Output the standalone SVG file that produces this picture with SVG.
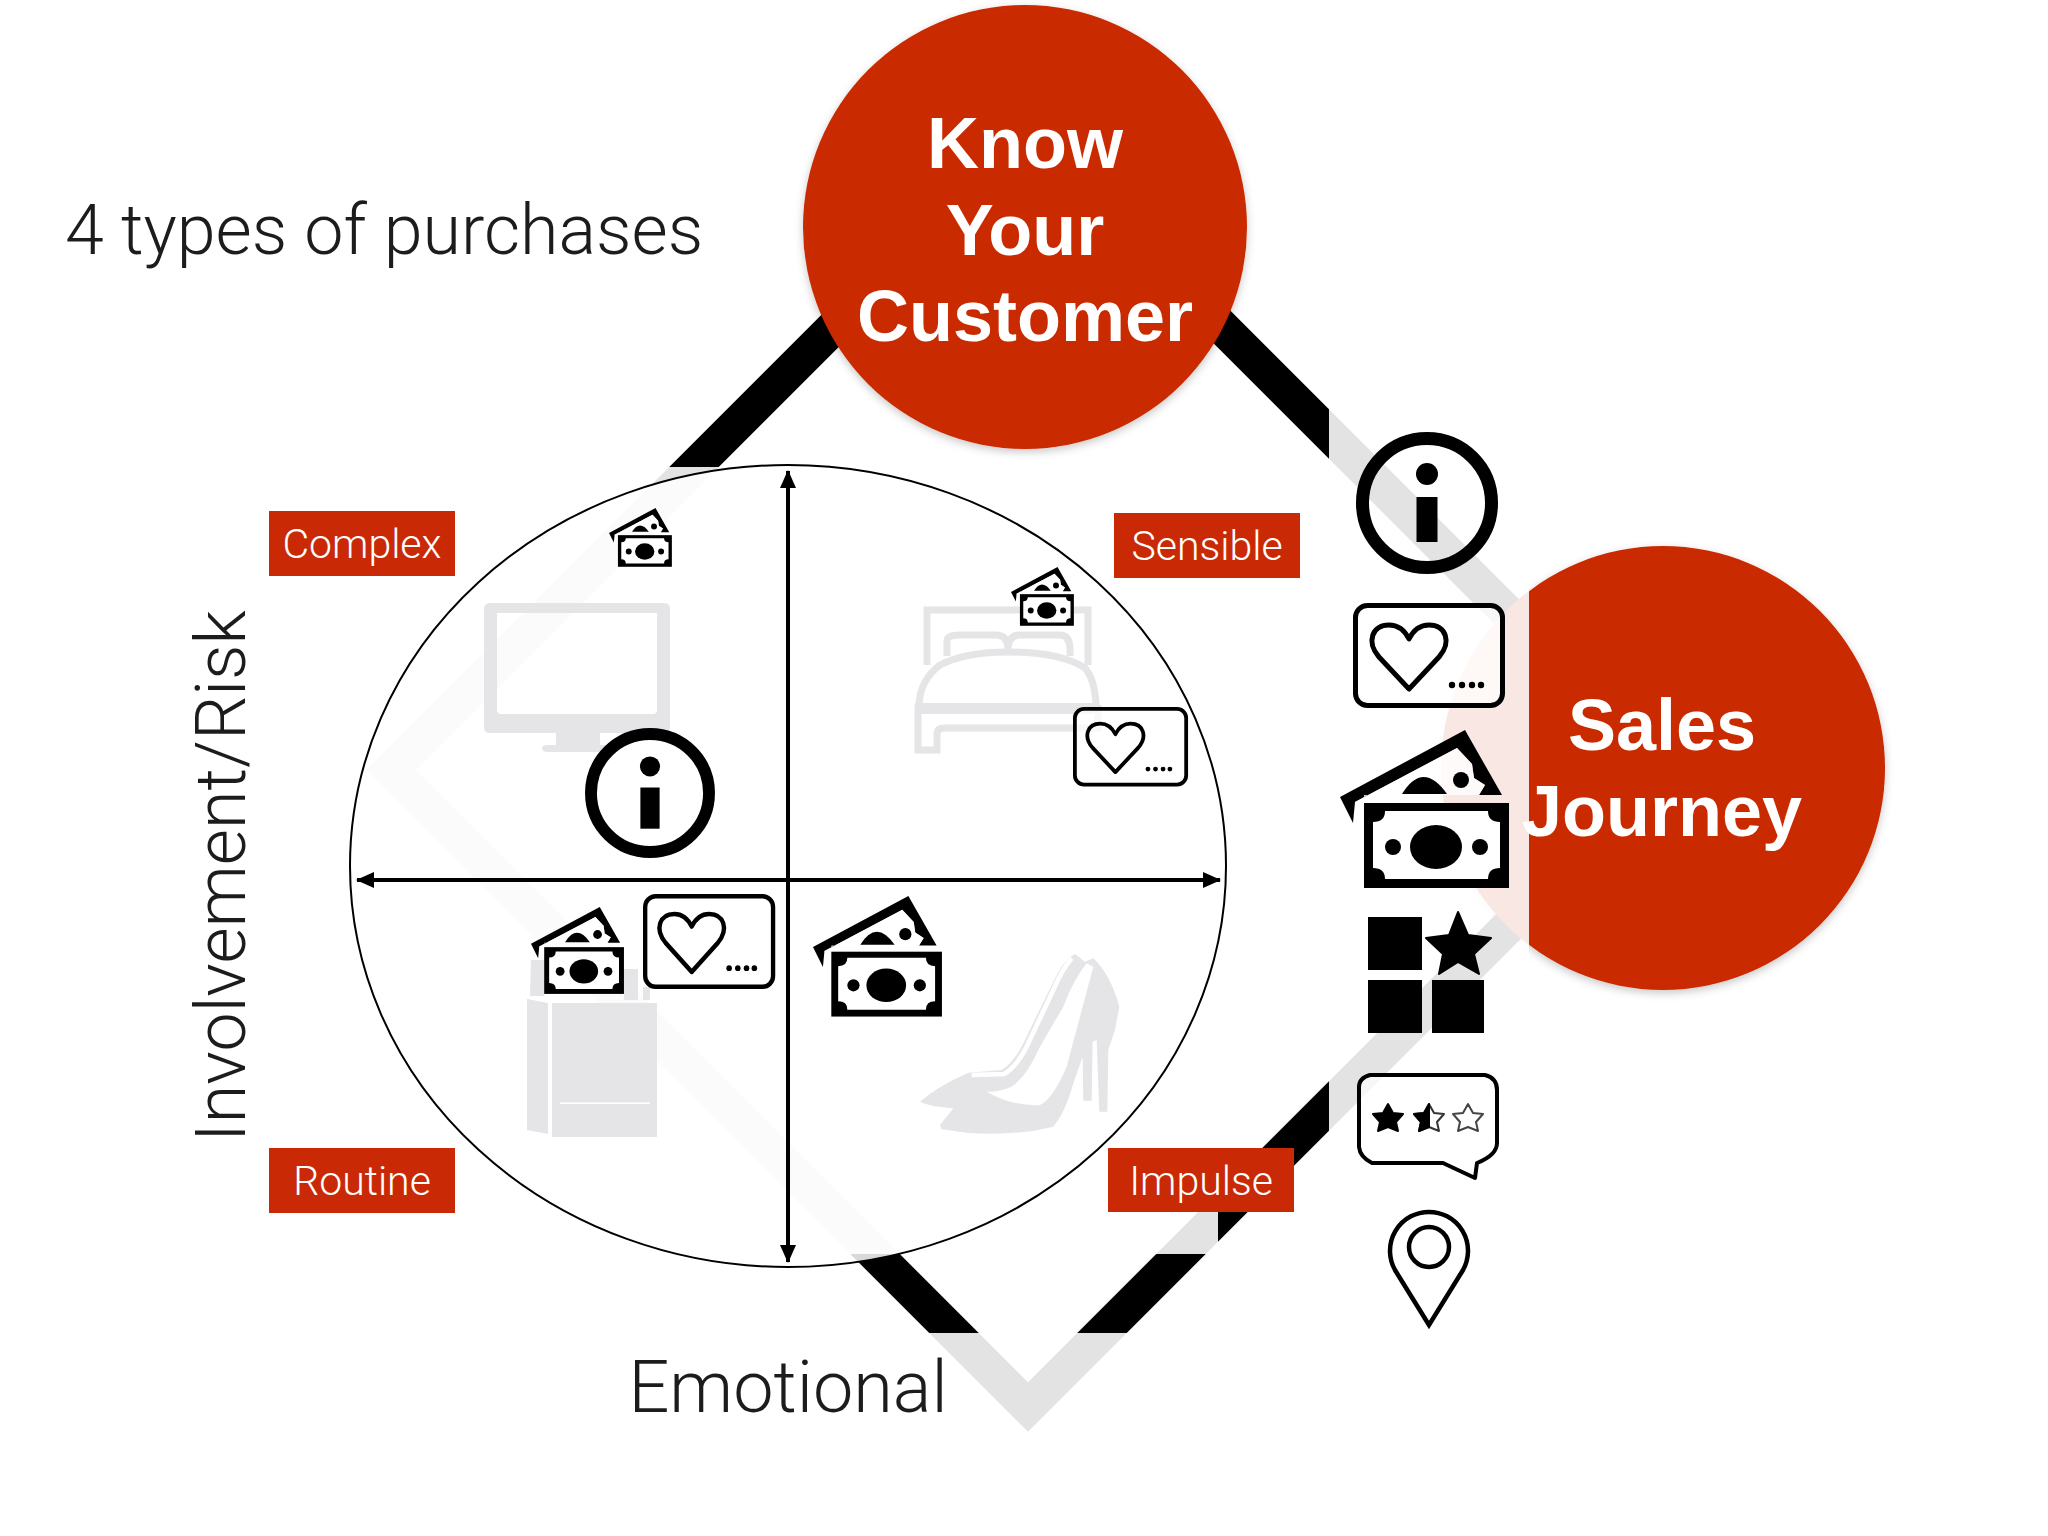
<svg xmlns="http://www.w3.org/2000/svg" xmlns:xlink="http://www.w3.org/1999/xlink" width="2048" height="1536" viewBox="0 0 2048 1536">
<style>
.big{font-family:"Liberation Sans",Arial,sans-serif;font-weight:700;font-size:72px;fill:#fff;text-anchor:middle}
.lbl{font-family:Roboto,"Liberation Sans",sans-serif;font-weight:300;font-size:41px;fill:#fff;text-anchor:middle}
.hd{font-family:Roboto,"Liberation Sans",sans-serif;font-weight:300;fill:#1c1c1c}
.tag{fill:#c92a05}
.ghost{fill:#e5e5e7}
.ghostl{fill:none;stroke:#e5e5e7;stroke-width:7}
</style>
<defs>
<filter id="sh" x="-10%" y="-10%" width="120%" height="120%"><feDropShadow dx="0" dy="3" stdDeviation="4" flood-color="#000" flood-opacity="0.22"/></filter>
<marker id="ah" viewBox="0 0 18 16" markerWidth="18" markerHeight="16" markerUnits="userSpaceOnUse" refX="17" refY="8" orient="auto-start-reverse"><path d="M0 0L18 8L0 16Z" fill="#000"/></marker>
<symbol id="info" overflow="visible">
<circle r="64.5" fill="none" stroke="#000" stroke-width="13"/><circle cy="-29" r="11" fill="#000"/><rect x="-10.5" y="-6" width="21" height="45" fill="#000"/>
</symbol>
<symbol id="card" overflow="visible">
<rect x="2.5" y="2.5" width="147" height="100" rx="12" fill="#fff" fill-opacity=".72" stroke="#000" stroke-width="5"/>
<path d="M56 86L26 54C13 39 19 22 36 22C46 22 52 28 56 36C60 28 66 22 76 22C93 22 99 39 86 54Z" fill="none" stroke="#000" stroke-width="5" stroke-linejoin="round"/>
<g fill="#000"><circle cx="99" cy="82" r="3.2"/><circle cx="109" cy="82" r="3.2"/><circle cx="119" cy="82" r="3.2"/><circle cx="128" cy="82" r="3.2"/></g>
</symbol>
<symbol id="money" overflow="visible">
<path d="M0 67L125 0L162 65H139L145 55L134 48L132 34L117 18L15 72L13 93Z" fill="#000"/>
<path d="M15 72L117 18L132 34L134 48L145 55L139 65L24 65V73H15Z" fill="#fff" fill-opacity=".8"/>
<path d="M62 64Q83 30 107 64Z" fill="#000"/><circle cx="121" cy="50" r="8" fill="#000"/>
<rect x="24" y="73" width="145" height="85" fill="#000"/>
<path d="M45 81H148Q148 92 160 92V138Q148 138 148 149H45Q45 138 33 138V92Q45 92 45 81Z" fill="#fff"/>
<ellipse cx="96" cy="117" rx="26" ry="22" fill="#000"/><circle cx="53" cy="117" r="8" fill="#000"/><circle cx="140" cy="117" r="8" fill="#000"/>
</symbol>
</defs>

<g id="connectors">
<path d="M1028 133L1665 770L1028 1407L391 770Z" fill="none" stroke="#000" stroke-width="35" stroke-linejoin="miter"/>
</g>

<g id="know-your-customer"><circle cx="1025" cy="227" r="222" fill="#c92a05" filter="url(#sh)"/></g>
<g id="sales-journey"><circle cx="1663" cy="768" r="222" fill="#c92a05" filter="url(#sh)"/></g>

<g id="fade" fill="#fff" fill-opacity=".89">
<rect x="1329" y="300" width="200" height="1000"/>
<rect x="600" y="1333" width="729" height="120"/>
<rect x="330" y="467" width="888" height="787"/>
</g>

<g id="matrix">
<ellipse cx="788" cy="866" rx="438" ry="401" fill="#fff" fill-opacity=".85" stroke="#000" stroke-width="2"/>
</g>

<g id="monitor" class="ghost"><path fill-rule="evenodd" d="M490 603H664Q670 603 670 609V727Q670 733 664 733H600V745H606V752H548Q542 752 542 748Q542 745 548 745H556V733H490Q484 733 484 727V609Q484 603 490 603ZM497 613V710Q497 714 501 714H653Q657 714 657 710V613Z"/></g>
<g id="bed">
<path class="ghostl" d="M927 665V610H1088V665"/>
<path class="ghostl" d="M947 656V641Q947 635 960 635H996Q1008 635 1008 650Q1008 635 1020 635H1060Q1070 635 1070 650V656"/>
<path class="ghostl" d="M919 705Q920 680 940 665Q965 652 1008 652Q1060 652 1085 668Q1095 680 1096 705"/>
<path class="ghostl" d="M918 705V750H937V734Q937 728 945 728H1098V705"/>
<rect class="ghost" x="915" y="703" width="185" height="11"/>
</g>
<g id="bag" class="ghost">
<path d="M531 960L545 960L544 996H530ZM624 969L638 969L638 1000L624 1000ZM643 987L650 987L650 1000L643 1000Z"/>
<path d="M527 999L548 1003V1134L527 1130Z"/>
<rect x="552" y="1003" width="105" height="134"/>
<rect x="560" y="1102.500" width="90" height="1.500" fill="#fff"/>
</g>
<g id="shoe" transform="translate(880 850) scale(.3333)">
<path class="ghost" d="M120 755Q170 710 265 668L365 660Q400 640 430 580L520 395Q550 330 585 312L615 335L640 325Q690 370 718 470L705 540L685 600L682 785L658 785L650 570L638 575L635 752L610 752L608 620L580 700Q555 790 520 830Q400 860 260 848L185 838L180 825L220 775Q150 770 120 755Z"/>
<path fill="#fff" d="M320 725Q400 770 480 765Q520 745 560 650L640 350L620 340Q580 390 550 470L480 590Q440 680 395 710Q360 725 320 725Z"/>
<path d="M275 675L372 672Q410 650 440 590L520 420Q545 360 575 325" fill="none" stroke="#fff" stroke-width="14"/>
</g>

<g id="axes" stroke="#000" stroke-width="4" fill="none">
<line x1="788" y1="471" x2="788" y2="1262" marker-start="url(#ah)" marker-end="url(#ah)"/>
<line x1="357" y1="880" x2="1220" y2="880" marker-start="url(#ah)" marker-end="url(#ah)"/>
</g>

<g id="label-complex"><rect class="tag" x="269" y="511" width="186" height="65"/><text class="lbl" x="362" y="558">Complex</text></g>
<g id="label-sensible"><rect class="tag" x="1114" y="513" width="186" height="65"/><text class="lbl" x="1207" y="560">Sensible</text></g>
<g id="label-routine"><rect class="tag" x="269" y="1148" width="186" height="65"/><text class="lbl" x="362" y="1195">Routine</text></g>
<g id="label-impulse"><rect class="tag" x="1108" y="1148" width="186" height="64"/><text class="lbl" x="1201" y="1195">Impulse</text></g>

<g id="icons-matrix">
<use href="#money" transform="translate(609 508) scale(.372)"/>
<use href="#money" transform="translate(1011 567) scale(.372)"/>
<use href="#money" transform="translate(531 907) scale(.55)"/>
<use href="#money" transform="translate(813 896) scale(.763)"/>
<use href="#info" transform="translate(650 793) scale(.915)"/>
<use href="#card" transform="translate(643 894) scale(.87 .905)"/>
<use href="#card" transform="translate(1073 707) scale(.757)"/>
</g>

<g id="icons-journey">
<g id="icon-info"><use href="#info" transform="translate(1427 503)"/></g>
<g id="icon-card"><use href="#card" transform="translate(1353 603)"/></g>
<g id="icon-money"><use href="#money" transform="translate(1340 730)"/></g>
<g id="icon-grid" fill="#000">
<rect x="1368" y="917" width="54" height="53"/><rect x="1368" y="980" width="54" height="53"/><rect x="1432" y="980" width="52" height="53"/>
<path d="M1458 912L1468 935L1491 938L1474 954L1479 974L1458 962L1439 974L1443 954L1426 938L1449 935Z" stroke="#000" stroke-width="2" stroke-linejoin="round"/>
</g>
<g id="icon-reviews">
<path d="M1370 1075H1485Q1497 1078 1497 1090V1143Q1497 1155 1477 1163L1475 1178L1443 1163H1372Q1360 1157 1359 1147V1087Q1359 1078 1370 1075Z" fill="#fff" fill-opacity=".7" stroke="#000" stroke-width="4" stroke-linejoin="round"/>
<path d="M1388 1104L1393 1113L1403 1114L1396 1122L1398 1131L1388 1127L1378 1131L1380 1122L1373 1114L1383 1113Z" fill="#000" stroke="#000" stroke-width="2" stroke-linejoin="round"/>
<path d="M1429 1104L1434 1113L1444 1114L1437 1122L1439 1131L1429 1127L1419 1131L1421 1122L1414 1114L1424 1113Z" fill="#fff" stroke="#333" stroke-width="2" stroke-linejoin="round"/>
<path d="M1429 1104V1127L1419 1131L1421 1122L1414 1114L1424 1113Z" fill="#000" stroke="#000" stroke-width="2" stroke-linejoin="round"/>
<path d="M1468 1104L1473 1113L1483 1114L1476 1122L1478 1131L1468 1127L1458 1131L1460 1122L1453 1114L1463 1113Z" fill="#fff" stroke="#444" stroke-width="2" stroke-linejoin="round"/>
</g>
<g id="icon-pin" fill="none" stroke="#000" stroke-width="4.500">
<path d="M1429 1325L1395 1270A39 39 0 1 1 1463 1270Z" stroke-linejoin="miter"/>
<circle cx="1429" cy="1247" r="20"/>
</g>
</g>

<g id="text-know"><text class="big" x="1025" y="168">Know</text><text class="big" x="1025" y="255">Your</text><text class="big" x="1025" y="341">Customer</text></g>
<g id="text-sales"><text class="big" x="1662" y="750">Sales</text><text class="big" x="1662" y="836">Journey</text></g>
<text id="title" class="hd" x="65" y="254" font-size="70">4 types of purchases</text>
<text id="y-axis" class="hd" font-size="70" text-anchor="middle" transform="translate(245 876) rotate(-90)">Involvement/Risk</text>
<text id="x-axis" class="hd" font-size="72" x="788" y="1412" text-anchor="middle">Emotional</text>
</svg>
